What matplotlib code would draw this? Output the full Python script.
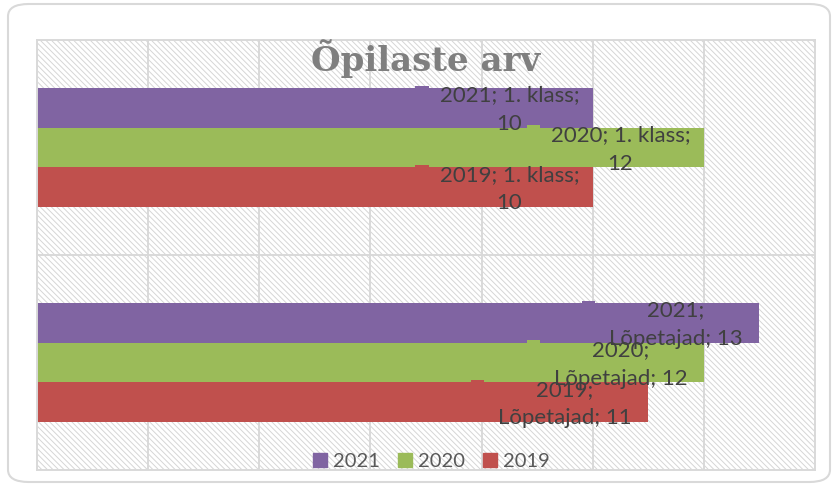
import textwrap
import numpy as np
import matplotlib
matplotlib.use("Agg")
import matplotlib.pyplot as plt
from matplotlib.patches import Rectangle, FancyBboxPatch

categories = ["Lõpetajad", "1. klass"]
years = ["2019", "2020", "2021"]
values = {
    "2019": [11, 10],
    "2020": [12, 12],
    "2021": [13, 10],
}
colors = {"2019": "#C0504D", "2020": "#9BBB59", "2021": "#8064A2"}
title = "Õpilaste arv"

plt.rcParams['hatch.linewidth'] = 0.7

fig = plt.figure(figsize=(8.35, 4.92), dpi=100)
fig.patch.set_facecolor("white")

# rounded outer frame
frame = FancyBboxPatch((8/835, 10/492), 822/835, 478/492,
                       boxstyle="round,pad=0,rounding_size=0.025",
                       transform=fig.transFigure, facecolor="none",
                       edgecolor="#d9d9d9", lw=1.5, zorder=-1)
fig.patches.append(frame)

ax = fig.add_axes([37/835, 22/492, 778/835, 430/492])
ax.set_xlim(0, 14)
ax.set_ylim(-0.5, 1.5)
ax.patch.set_alpha(0)

# hatched plot area background
bg = Rectangle((0, 0), 1, 1, transform=ax.transAxes, facecolor="white",
               edgecolor="#d6d6d6", hatch="\\" * 6, lw=0, zorder=0)
ax.add_patch(bg)

ax.set_axisbelow(True)
for xv in np.arange(0, 15, 2):
    ax.axvline(xv, color="#d9d9d9", lw=1.4, zorder=0.5)
ax.axhline(0.5, color="#d9d9d9", lw=1.4, zorder=0.5)
for s in ax.spines.values():
    s.set_color("#d9d9d9")
    s.set_linewidth(1.4)
ax.set_xticks([])
ax.set_yticks([])

h = 0.184
offs = {"2019": -h, "2020": 0.0, "2021": h}
y = np.arange(len(categories))
px = 215.0  # pixels per y unit

for yr in years:
    ax.barh(y + offs[yr], values[yr], height=h, color=colors[yr], zorder=2, label=yr)

for yr in years:
    for i, cat in enumerate(categories):
        v = values[yr][i]
        yc = y[i] + offs[yr]
        lx = v - 1.5
        # leader stub
        ax.add_patch(Rectangle((lx - 1.69, yc + h/2), 0.24, 2.5/px,
                               facecolor=colors[yr], lw=0, zorder=3))
        txt = "\n".join(textwrap.wrap(f"{yr}; {cat}; {v}", 15))
        ax.text(lx, yc - 2/px, txt, ha="center", va="center", color="#404040",
                fontsize=16, family="Lato", linespacing=1.55, zorder=4)

fig.text(426/835, 1 - 70.5/492, title, ha="center", va="baseline",
         fontsize=24.5, fontweight="bold", family="DejaVu Serif", color="#7f7f7f")

handles = [Rectangle((0, 0), 1, 1, color=colors[yr]) for yr in ["2021", "2020", "2019"]]
leg = ax.legend(handles, ["2021", "2020", "2019"], loc="lower center",
                bbox_to_anchor=(0.507, -0.01), ncol=3, frameon=False,
                prop={"family": "Lato", "size": 14.5}, handlelength=0.7,
                handleheight=0.7, handletextpad=0.3, columnspacing=0.9,
                borderaxespad=0.0, borderpad=0.2)
for t in leg.get_texts():
    t.set_color("#595959")

fig.savefig("out.png", dpi=100)
